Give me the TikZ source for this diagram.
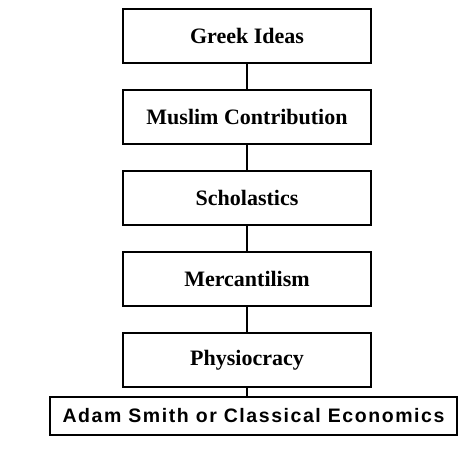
\documentclass[tikz,border=0pt]{standalone}
\usepackage{fontspec}
\setmainfont{Liberation Serif}
\newfontfamily\boxsans[LetterSpace=8]{Liberation Sans}
\usepackage{tikz}

\begin{document}
\begin{tikzpicture}[x=1pt, y=-1pt, line width=1.3pt,
	every node/.style={draw, rectangle, inner sep=0pt, font=\fontsize{22}{26}\selectfont\bfseries},
	stage/.style={minimum width=248pt, minimum height=54pt}]
	\useasboundingbox (0, 0) rectangle (474, 449);
	
	\node[stage] (a) at (247, 36) {Greek Ideas};
	\node[stage] (b) at (247, 117) {Muslim Contribution};
	\node[stage] (c) at (247, 198) {Scholastics};
	\node[stage] (d) at (247, 279) {Mercantilism};
	\node[stage] (e) at (247, 360) {Physiocracy};
	
	\node[minimum width=407pt, minimum height=38pt, font=\fontsize{19.5}{23}\boxsans\bfseries] (f) at (253.5, 416) {Adam Smith or Classical Economics};
	
	\draw (a) -- (b);
	\draw (b) -- (c);
	\draw (c) -- (d);
	\draw (d) -- (e);
	\draw (e.south) -- (e.south |- f.north);
\end{tikzpicture}
\end{document}
